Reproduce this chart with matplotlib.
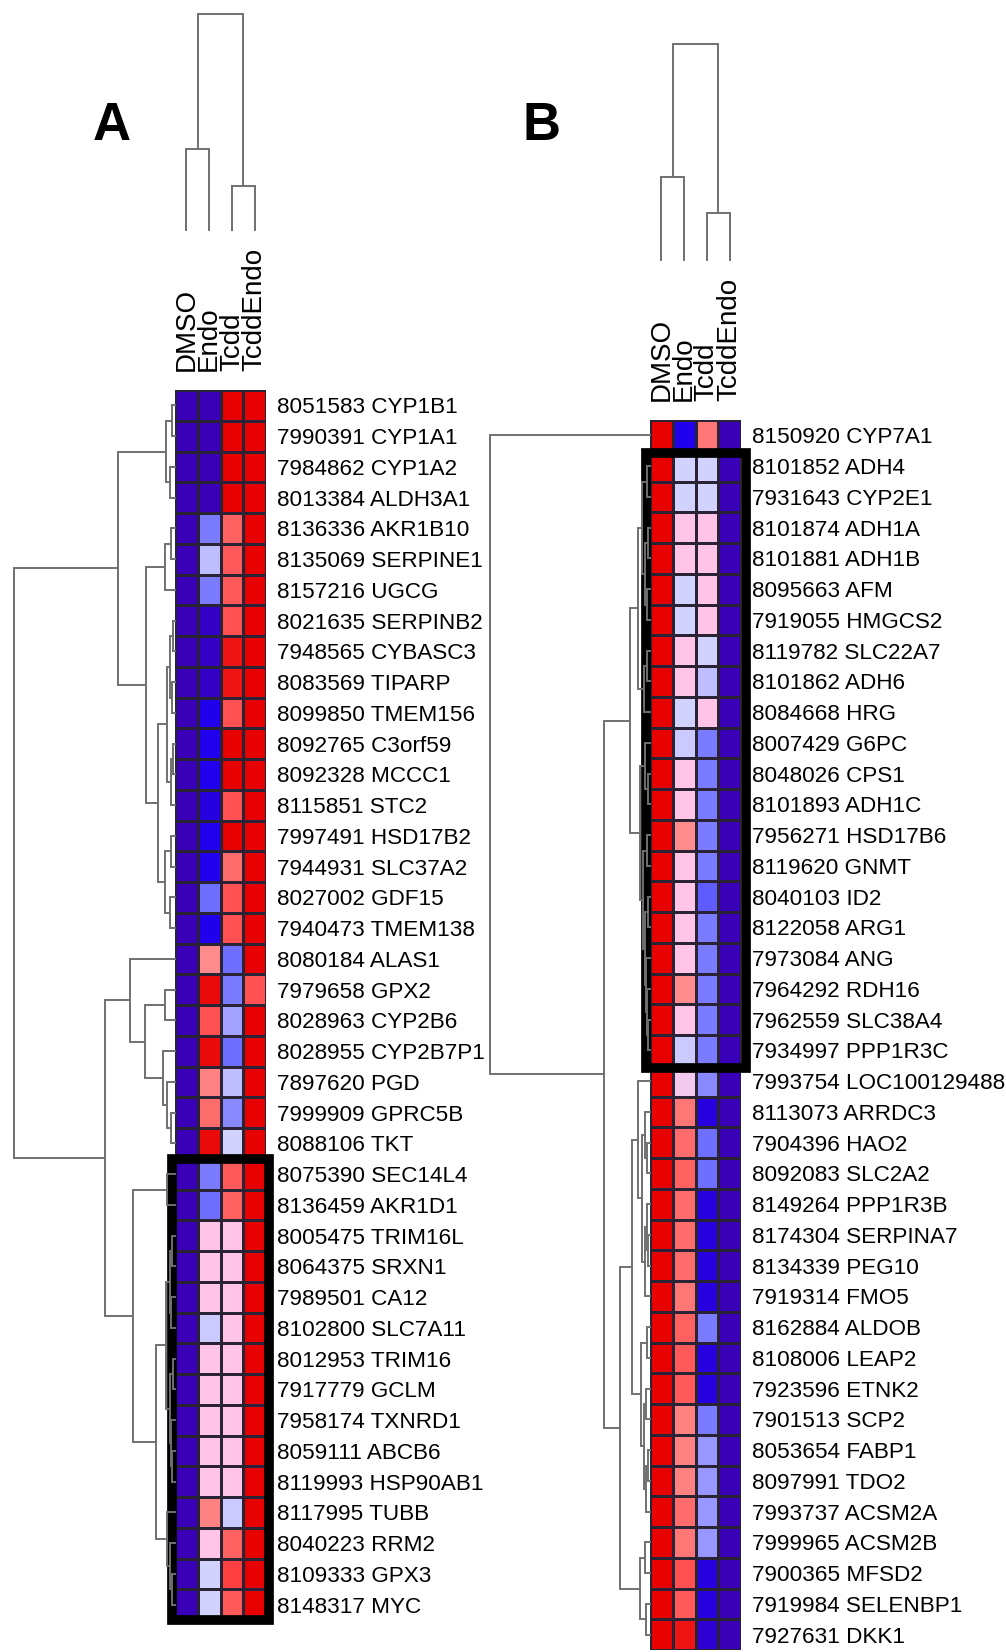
import numpy as np
import matplotlib
matplotlib.use('Agg')
import matplotlib.pyplot as plt
from matplotlib.colors import LinearSegmentedColormap
from matplotlib.patches import Rectangle
from matplotlib import font_manager

# ---------------- data ----------------
conditions = ['DMSO', 'Endo', 'Tcdd', 'TcddEndo']

ids_A = ['8051583', '7990391', '7984862', '8013384', '8136336', '8135069', '8157216', '8021635',
         '7948565', '8083569', '8099850', '8092765', '8092328', '8115851', '7997491', '7944931',
         '8027002', '7940473', '8080184', '7979658', '8028963', '8028955', '7897620', '7999909',
         '8088106', '8075390', '8136459', '8005475', '8064375', '7989501', '8102800', '8012953',
         '7917779', '7958174', '8059111', '8119993', '8117995', '8040223', '8109333', '8148317']
genes_A = ['CYP1B1', 'CYP1A1', 'CYP1A2', 'ALDH3A1', 'AKR1B10', 'SERPINE1', 'UGCG', 'SERPINB2',
           'CYBASC3', 'TIPARP', 'TMEM156', 'C3orf59', 'MCCC1', 'STC2', 'HSD17B2', 'SLC37A2',
           'GDF15', 'TMEM138', 'ALAS1', 'GPX2', 'CYP2B6', 'CYP2B7P1', 'PGD', 'GPRC5B',
           'TKT', 'SEC14L4', 'AKR1D1', 'TRIM16L', 'SRXN1', 'CA12', 'SLC7A11', 'TRIM16',
           'GCLM', 'TXNRD1', 'ABCB6', 'HSP90AB1', 'TUBB', 'RRM2', 'GPX3', 'MYC']

dmso_A = [-1.0] * 40
endo_A = [-1, -1, -1, -1, -0.45, -0.2, -0.45, -0.95, -0.95, -0.95,
          -0.8, -0.8, -0.8, -0.85, -0.8, -0.8, -0.5, -0.8, 0.3, 0.95,
          0.6, 0.95, 0.35, 0.45, 0.95, -0.45, -0.5, 0.05, 0.05, 0.05,
          -0.15, 0.05, 0.05, 0.05, 0.05, 0.05, 0.35, 0.05, -0.12, -0.12]
tcdd_A = [1, 1, 1, 1, 0.5, 0.55, 0.55, 0.6, 0.9, 0.9,
          0.6, 1, 1, 0.6, 1, 0.45, 0.6, 0.6, -0.5, -0.45,
          -0.3, -0.5, -0.2, -0.4, -0.12, 0.55, 0.5, 0.05, 0.05, 0.05,
          0.05, 0.05, 0.05, 0.05, 0.05, 0.05, -0.15, 0.5, 0.7, 0.55]
te_A = [1.0] * 19 + [0.6] + [1.0] * 20

ids_B = ['8150920', '8101852', '7931643', '8101874', '8101881', '8095663', '7919055', '8119782',
         '8101862', '8084668', '8007429', '8048026', '8101893', '7956271', '8119620', '8040103',
         '8122058', '7973084', '7964292', '7962559', '7934997', '7993754', '8113073', '7904396',
         '8092083', '8149264', '8174304', '8134339', '7919314', '8162884', '8108006', '7923596',
         '7901513', '8053654', '8097991', '7993737', '7999965', '7900365', '7919984', '7927631']
genes_B = ['CYP7A1', 'ADH4', 'CYP2E1', 'ADH1A', 'ADH1B', 'AFM', 'HMGCS2', 'SLC22A7',
           'ADH6', 'HRG', 'G6PC', 'CPS1', 'ADH1C', 'HSD17B6', 'GNMT', 'ID2',
           'ARG1', 'ANG', 'RDH16', 'SLC38A4', 'PPP1R3C', 'LOC100129488', 'ARRDC3', 'HAO2',
           'SLC2A2', 'PPP1R3B', 'SERPINA7', 'PEG10', 'FMO5', 'ALDOB', 'LEAP2', 'ETNK2',
           'SCP2', 'FABP1', 'TDO2', 'ACSM2A', 'ACSM2B', 'MFSD2', 'SELENBP1', 'DKK1']

dmso_B = [1.0] * 40
endo_B = [-0.8, -0.12, -0.12, 0.05, 0.05, -0.12, -0.12, 0.05, 0.05, -0.12,
          -0.15, 0.05, 0.05, 0.3, 0.05, 0.05, 0.05, 0.05, 0.3, 0.05,
          -0.15, 0.0, 0.4, 0.45, 0.5, 0.45, 0.45, 0.45, 0.4, 0.5,
          0.55, 0.55, 0.35, 0.35, 0.35, 0.45, 0.4, 0.6, 0.55, 0.9]
tcdd_B = [0.4, -0.12, -0.12, 0.05, 0.05, 0.05, 0.05, -0.12, -0.2, 0.05,
          -0.45, -0.45, -0.45, -0.45, -0.45, -0.55, -0.45, -0.45, -0.45, -0.45,
          -0.45, -0.4, -0.85, -0.5, -0.5, -0.85, -0.85, -0.85, -0.85, -0.45,
          -0.85, -0.85, -0.45, -0.35, -0.35, -0.35, -0.35, -0.85, -0.85, -0.9]
te_B = [-1.0] * 40

# column trees: [left, right, height]
col_tree_A = [[0, 1, 81], [2, 3, 44], 216]
col_tree_B = [[0, 1, 83], [2, 3, 47], 216]

# row trees (leaves = row index)
g1 = [[0, 1, 3], [2, 3, 5], 9]
g2 = [[4, 5, 4], 6, 10]
g3 = [[[7, 8, 2], [9, 10, 3], 5], [[11, 12, 2], 13, 4], 8]
g4 = [[14, 15, 4], [16, 17, 5], 10]
top_A = [g1, [g2, [g3, g4, 17], 29], 57]
g5 = [18, [[19, 20, 10], [21, [22, [23, 24, 4], 8], 12], 30], 45]
pink_A = [[[27, 28, 3], [29, 30, 4], 5], [[31, 32, 2], [33, [34, 35, 3], 4], 5], 9]
box_A = [[25, 26, 8], [pink_A, [36, [37, [38, 39, 3], 5], 8], 19], 42]
row_tree_A = [top_A, [g5, box_A, 70], 161]

box_B = [[[[1, 2, 3], [[3, 4, 2], [5, 6, 3], 5], 8], [[7, 8, 3], 9, 6], 12],
         [[10, [11, 12, 2], 5],
          [[13, 14, 3], [[15, 16, 2], [17, [18, [19, 20, 2], 3], 4], 5], 7], 10], 20]
low1_B = [[21, [[22, [23, 24, 3], 5], [[25, [26, 27, 2], 3], 28, 5], 8], 12],
          [[29, 30, 3], [[31, 32, 4], [[33, 34, 2], 35, 4], 6], 9], 18]
low2_B = [[36, 37, 5], [38, 39, 4], 10]
row_tree_B = [0, [box_B, [low1_B, low2_B, 30], 46], 160]

# ---------------- style ----------------
W, H = 1006, 1652
fig = plt.figure(figsize=(W / 100, H / 100), dpi=100)
fig.patch.set_facecolor('white')

names = {f.name for f in font_manager.fontManager.ttflist}
sans = 'Liberation Sans' if 'Liberation Sans' in names else 'DejaVu Sans'

cmap = LinearSegmentedColormap.from_list('bwr_pink', [
    (0.0, '#3a00b8'), (0.1, '#2000ee'), (0.25, '#6e6eff'), (0.35, '#a4a4ff'),
    (0.45, '#d8d8ff'), (0.525, '#ffc4e6'), (0.65, '#ff8c8c'), (0.75, '#ff6262'),
    (0.85, '#ff4040'), (1.0, '#e60000')])

tree_color = '#707070'


def px_axes(l, t, r, b):
    return fig.add_axes([l / W, 1 - b / H, (r - l) / W, (b - t) / H])


def draw_tree(ax, node, orient):
    if isinstance(node, int):
        return node + 0.5, 0
    left, right, h = node
    pl, hl = draw_tree(ax, left, orient)
    pr, hr = draw_tree(ax, right, orient)
    if orient == 'top':
        ax.plot([pl, pl, pr, pr], [hl, h, h, hr], color=tree_color, lw=1.4,
                solid_joinstyle='miter', clip_on=False)
    else:
        ax.plot([hl, h, h, hr], [pl, pl, pr, pr], color=tree_color, lw=1.4,
                solid_joinstyle='miter', clip_on=False)
    return (pl + pr) / 2, h


def panel(cols, ids, genes, hm_box, col_box, row_box, col_tree, row_tree, frame, letter, letter_xy):
    l, t, r, b = hm_box
    ax = px_axes(l, t, r, b)
    data = np.array(cols).T
    ax.pcolormesh(data, cmap=cmap, vmin=-1, vmax=1, edgecolors='#2a2235', linewidth=0.9)
    ax.set_xlim(0, 4)
    ax.set_ylim(len(ids), 0)
    for s in ax.spines.values():
        s.set_visible(False)
    ax.set_yticks(np.arange(len(ids)) + 0.5)
    ax.set_yticklabels([i + ' ' + g for i, g in zip(ids, genes)],
                       family=sans, fontsize=16.2)
    ax.yaxis.tick_right()
    ax.set_xticks(np.arange(4) + 0.5)
    ax.set_xticklabels(conditions, rotation=90, family=sans, fontsize=20)
    ax.xaxis.tick_top()
    ax.tick_params(axis='y', length=0, pad=8)
    ax.tick_params(axis='x', length=0, pad=14)
    x0, y0, w, hgt = frame
    ax.add_patch(Rectangle((x0, y0), w, hgt, fill=False, ec='black', lw=7,
                           clip_on=False, joinstyle='miter'))

    cax = px_axes(*col_box)
    draw_tree(cax, col_tree, 'top')
    cax.set_xlim(0, 4)
    cax.set_ylim(0, col_box[3] - col_box[1])
    cax.axis('off')

    rax = px_axes(*row_box)
    draw_tree(rax, row_tree, 'left')
    rax.set_xlim(row_box[2] - row_box[0], 0)
    rax.set_ylim(len(ids), 0)
    rax.axis('off')

    fig.text(letter_xy[0] / W, 1 - letter_xy[1] / H, letter, family=sans,
             fontweight='bold', fontsize=38, ha='center', va='center')


panel([dmso_A, endo_A, tcdd_A, te_A], ids_A, genes_A,
      (175, 390, 266, 1620), (175, 10, 266, 230), (0, 390, 175, 1620),
      col_tree_A, row_tree_A, (-0.13, 25.0, 4.26, 15.0), 'A', (112, 126))

panel([dmso_B, endo_B, tcdd_B, te_B], ids_B, genes_B,
      (650, 420, 741, 1650), (650, 40, 741, 260), (475, 420, 650, 1650),
      col_tree_B, row_tree_B, (-0.17, 1.07, 4.37, 20.0), 'B', (541, 126))

fig.savefig('out.png', dpi=100, facecolor='white')
